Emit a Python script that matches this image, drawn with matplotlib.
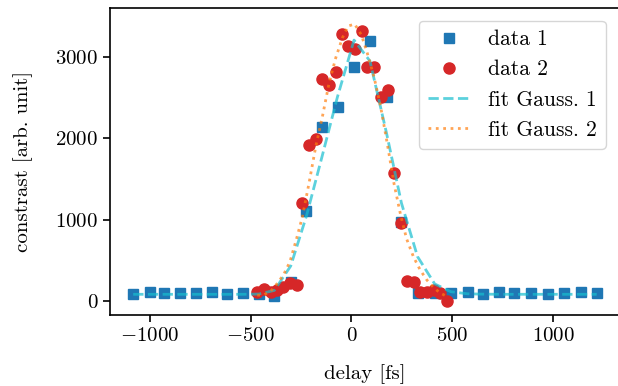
import matplotlib
matplotlib.use('Agg')
import matplotlib.pyplot as plt

# data 1: blue squares
delay_1 = [-1082, -1001, -927, -851, -771, -693, -615, -538, -459, -382,
           -301, -223, -144, -69, 13, 92, 174, 248, 328, 413,
           493, 576, 650, 733, 807, 890, 973, 1055, 1138, 1216]
contrast_1 = [90, 110, 95, 95, 95, 115, 80, 95, 90, 60,
              237, 1109, 2140, 2379, 2870, 3196, 2509, 974, 95, 100,
              100, 110, 80, 110, 95, 95, 80, 95, 105, 95]
fit_1 = [82, 82, 82, 82, 82, 82, 82, 82, 85, 130,
         430, 1044, 1790, 2509, 3205, 2947, 2063, 1203, 544, 209,
         114, 88, 84, 82, 82, 82, 82, 82, 82, 82]

# data 2: red circles
delay_2 = [-467, -434, -400, -368, -337, -305, -271, -243, -210, -177,
           -144, -111, -78, -45, -17, 16, 50, 79, 112, 145,
           179, 211, 245, 274, 308, 341, 374, 407, 440, 476]
contrast_2 = [107, 144, 107, 135, 168, 225, 196, 1207, 1916, 1986,
              2722, 2652, 2816, 3275, 3135, 3091, 3319, 2876, 2876, 2509,
              2591, 1576, 954, 246, 237, 107, 114, 135, 95, 4]
fit_2 = [70, 75, 120, 215, 320, 480, 774, 1035, 1450, 1895,
         2263, 2673, 2984, 3230, 3377, 3402, 3266, 3042, 2754, 2386,
         1916, 1445, 1044, 761, 540, 381, 258, 166, 98, 53]

plt.rcParams['font.family'] = 'serif'
plt.rcParams['font.serif'] = ['cmr10']
plt.rcParams['mathtext.fontset'] = 'cm'
plt.rcParams['axes.formatter.use_mathtext'] = True
plt.rcParams['font.size'] = 15
plt.rcParams['axes.linewidth'] = 1.2
plt.rcParams['xtick.major.width'] = 1.2
plt.rcParams['ytick.major.width'] = 1.2
plt.rcParams['xtick.major.size'] = 5
plt.rcParams['ytick.major.size'] = 5

fig = plt.figure(figsize=(6.18, 3.86), dpi=100)
ax = fig.add_axes([0.178, 0.184, 0.825, 0.795])

ax.plot(delay_1, contrast_1, 's', color='tab:blue', ms=7, label='data 1')
ax.plot(delay_2, contrast_2, 'o', color='tab:red', ms=8, label='data 2')
ax.plot(delay_1, fit_1, '--', color='tab:cyan', alpha=0.7, lw=2, label='fit Gauss. 1')
ax.plot(delay_2, fit_2, ':', color='tab:orange', alpha=0.7, lw=2, label='fit Gauss. 2')

ax.set_xlim(-1197, 1331)
ax.set_ylim(-172, 3598)
ax.set_xticks([-1000, -500, 0, 500, 1000])
ax.set_yticks([0, 1000, 2000, 3000])
ax.set_xlabel('delay [fs]', labelpad=14)
ax.set_ylabel('constrast [arb. unit]', labelpad=16)
ax.spines['right'].set_visible(False)  # cut off in the original
ax.legend(loc='upper right', bbox_to_anchor=(0.993, 0.993), fontsize=15.5)

fig.savefig('out.png', dpi=100)
